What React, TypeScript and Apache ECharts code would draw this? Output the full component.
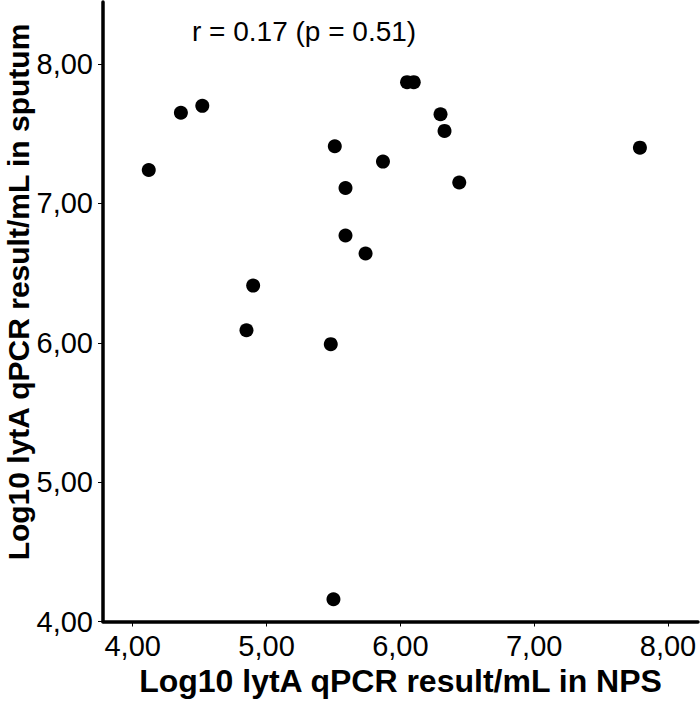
import React, { useEffect, useRef } from 'react';
import * as echarts from 'echarts';

// Log10 lytA qPCR result/mL in NPS (x) and in sputum (y)
const npsValues = [4.12, 4.36, 4.52, 5.51, 5.87, 5.59, 5.59, 5.74, 6.05, 6.10, 6.30, 6.33, 6.44, 7.79, 4.90, 4.85, 5.48, 5.50];
const sputumValues = [7.24, 7.65, 7.70, 7.41, 7.30, 7.11, 6.77, 6.64, 7.87, 7.87, 7.64, 7.52, 7.15, 7.40, 6.41, 6.09, 5.99, 4.16];
const xTicks = [4, 5, 6, 7, 8];
const yTicks = [4, 5, 6, 7, 8];
const xTitle = 'Log10 lytA qPCR result/mL in NPS';
const yTitle = 'Log10 lytA qPCR result/mL in sputum';
const annotation = 'r = 0.17 (p = 0.51)';

const FONT = '"Liberation Sans", Arial, Helvetica, sans-serif';
const fmt = (v: number) => v.toFixed(2).replace('.', ',');

export default function App() {
  const ref = useRef<HTMLDivElement>(null);
  useEffect(() => {
    document.body.style.margin = '0';
    if (!ref.current) return;
    const chart = echarts.init(ref.current, null, { renderer: 'svg' });
    const points = npsValues.map((x, i) => [x, sputumValues[i]]);
    chart.setOption({
      animation: false,
      backgroundColor: '#ffffff',
      grid: { left: 103, right: 2, top: 2, bottom: 83.5, containLabel: false, outerBoundsMode: 'none' },
      xAxis: {
        type: 'value',
        min: 3.778,
        max: 8.224,
        name: xTitle,
        nameLocation: 'middle',
        nameGap: 40,
        nameTextStyle: { fontFamily: FONT, fontSize: 32, fontWeight: 'bold', color: '#000' },
        axisLine: { show: true, onZero: false, lineStyle: { color: '#000', width: 3.5 } },
        axisTick: { show: true, customValues: xTicks, length: 5, lineStyle: { color: '#000', width: 1 } },
        axisLabel: { customValues: xTicks, formatter: fmt, fontFamily: FONT, fontSize: 29, color: '#000', margin: 10 },
        splitLine: { show: false },
      },
      yAxis: {
        type: 'value',
        min: 4,
        max: 8.445,
        axisLine: { show: true, onZero: false, lineStyle: { color: '#000', width: 3.5 } },
        axisTick: { show: true, customValues: yTicks, length: 5, lineStyle: { color: '#000', width: 1 } },
        axisLabel: { customValues: yTicks, formatter: fmt, fontFamily: FONT, fontSize: 29, color: '#000', margin: 10 },
        splitLine: { show: false },
      },
      graphic: [
        {
          type: 'text',
          x: 18,
          y: 292,
          rotation: Math.PI / 2,
          style: { text: yTitle, font: `bold 30px ${FONT}`, fill: '#000', align: 'center', verticalAlign: 'middle' },
        },
        {
          type: 'text',
          x: 192,
          y: 31,
          style: { text: annotation, font: `28px ${FONT}`, fill: '#000', align: 'left', verticalAlign: 'middle' },
        },
      ],
      series: [
        {
          type: 'scatter',
          data: points,
          symbol: 'circle',
          symbolSize: 14,
          itemStyle: { color: '#000', opacity: 1 },
          emphasis: { disabled: true },
        },
      ],
    });
    return () => chart.dispose();
  }, []);
  return <div ref={ref} style={{ width: 700, height: 705 }} />;
}
